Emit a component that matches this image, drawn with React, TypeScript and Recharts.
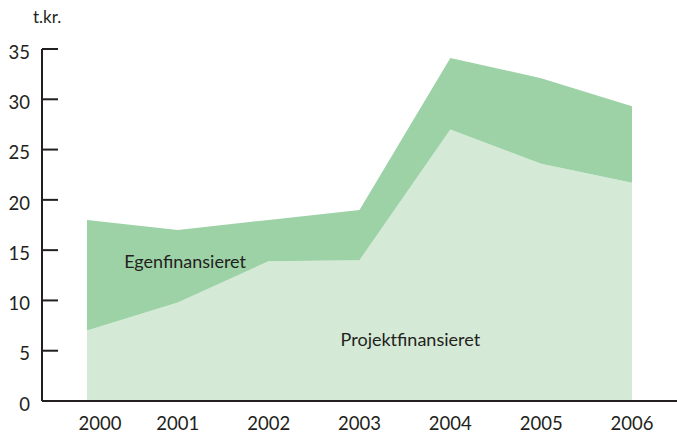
import { AreaChart, Area, XAxis, YAxis, ReferenceDot } from 'recharts'

const years = [2000, 2001, 2002, 2003, 2004, 2005, 2006]
const projekt = [7, 9.8, 13.9, 14, 27, 23.6, 21.7]
const egen = [11, 7.2, 4.1, 5, 7.1, 8.5, 7.6]
const yTicks = [0, 5, 10, 15, 20, 25, 30, 35]

const data = years.map((year, i) => ({ year, projekt: projekt[i], egen: egen[i] }))

const FONT = 'Lato, "Noto Sans", sans-serif'
const INK = '#231f20'

function YTick({ x, y, payload }: { x?: number; y?: number; payload?: { value: number } }) {
  if (x == null || y == null || !payload) return null
  return (
    <g>
      <line x1={x + 12} x2={x + 28} y1={y} y2={y} stroke={INK} strokeWidth={2} />
      <text x={x} y={y + 5} textAnchor="end" dominantBaseline="middle" fontSize={18.5} fontFamily={FONT} fill={INK}>
        {payload.value}
      </text>
    </g>
  )
}

function XTick({ x, y, payload, index }: { x?: number; y?: number; payload?: { value: number }; index?: number }) {
  if (x == null || y == null || !payload) return null
  return (
    <text x={x + (index === 0 ? 13 : 0)} y={y} dy="0.71em" textAnchor="middle" fontSize={18.5} fontFamily={FONT} fill={INK}>
      {payload.value}
    </text>
  )
}

export default function App() {
  return (
    <div style={{ position: 'absolute', left: 0, top: 0, width: 677, height: 434 }}>
      <div style={{ position: 'absolute', left: 33, top: 6, fontSize: 17, fontFamily: FONT, color: INK }}>t.kr.</div>
      <AreaChart width={677} height={434} data={data} margin={{ top: 49, right: 0, left: 0, bottom: 0 }}>
        <Area type="linear" dataKey="projekt" stackId="a" stroke="none" fill="#d4ead6" fillOpacity={1} isAnimationActive={false} />
        <Area type="linear" dataKey="egen" stackId="a" stroke="none" fill="#9dd2a7" fillOpacity={1} isAnimationActive={false} />
        <XAxis
          dataKey="year"
          type="number"
          domain={[2000, 2006]}
          ticks={years}
          padding={{ left: 45, right: 45 }}
          height={33}
          tickSize={0}
          tickMargin={16}
          axisLine={{ stroke: INK, strokeWidth: 2 }}
          tick={<XTick />}
        />
        <YAxis
          domain={[0, 35]}
          ticks={yTicks}
          width={42}
          tickSize={0}
          tickMargin={12}
          axisLine={{ stroke: INK, strokeWidth: 2 }}
          tick={<YTick />}
        />
        <ReferenceDot
          x={2001.08}
          y={13.9}
          r={0}
          label={{ value: 'Egenfinansieret', position: 'center', fontSize: 18, fontFamily: FONT, fill: INK }}
        />
        <ReferenceDot
          x={2003.56}
          y={6.1}
          r={0}
          label={{ value: 'Projektfinansieret', position: 'center', fontSize: 18, fontFamily: FONT, fill: INK }}
        />
      </AreaChart>
    </div>
  )
}
